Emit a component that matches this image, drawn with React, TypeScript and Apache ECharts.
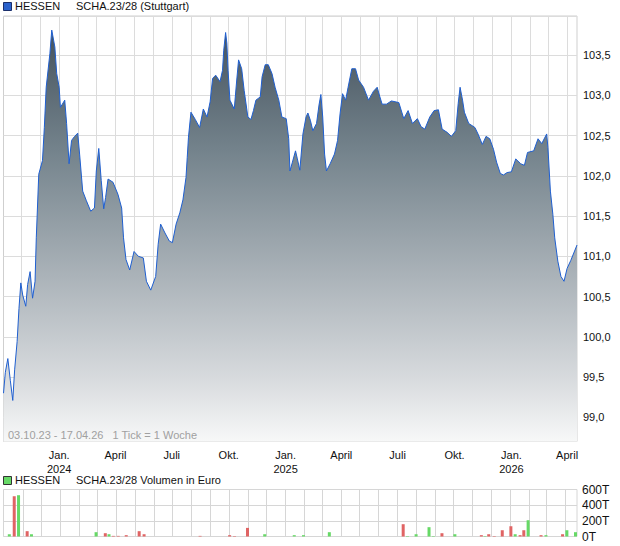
import React, { useEffect, useRef } from "react";
import * as echarts from "echarts";

const priceDates = [
  "2023-10-03","2023-10-06","2023-10-10","2023-10-14","2023-10-18","2023-10-21","2023-10-25","2023-10-28","2023-10-31",
  "2023-11-03","2023-11-08","2023-11-11","2023-11-15","2023-11-19","2023-11-23","2023-11-25","2023-11-29",
  "2023-12-05","2023-12-08","2023-12-11","2023-12-17","2023-12-20","2023-12-25","2023-12-28",
  "2024-01-01","2024-01-03","2024-01-10","2024-01-13","2024-01-17","2024-01-21","2024-01-26","2024-01-31",
  "2024-02-03","2024-02-08","2024-02-14","2024-02-21","2024-02-27",
  "2024-03-01","2024-03-05","2024-03-09","2024-03-13","2024-03-16","2024-03-20","2024-03-28",
  "2024-04-05","2024-04-11","2024-04-14","2024-04-18","2024-04-24",
  "2024-05-01","2024-05-08","2024-05-16","2024-05-21","2024-05-28",
  "2024-06-05","2024-06-09","2024-06-13","2024-06-20","2024-06-27",
  "2024-07-02","2024-07-08","2024-07-14","2024-07-19","2024-07-24","2024-07-26","2024-07-28",
  "2024-08-01","2024-08-08","2024-08-15","2024-08-21","2024-08-27",
  "2024-09-01","2024-09-05","2024-09-10","2024-09-17","2024-09-21","2024-09-23","2024-09-26","2024-09-28","2024-09-30",
  "2024-10-03","2024-10-10","2024-10-14","2024-10-17","2024-10-22","2024-10-26",
  "2024-11-01","2024-11-06","2024-11-10","2024-11-14","2024-11-21","2024-11-24","2024-11-29",
  "2024-12-04","2024-12-10","2024-12-15","2024-12-21","2024-12-26",
  "2025-01-02","2025-01-06","2025-01-08","2025-01-12","2025-01-17","2025-01-20","2025-01-24","2025-01-29",
  "2025-02-03","2025-02-06","2025-02-10","2025-02-14","2025-02-20","2025-02-24","2025-02-27",
  "2025-03-02","2025-03-05","2025-03-08","2025-03-14","2025-03-21","2025-03-26","2025-03-30",
  "2025-04-03","2025-04-08","2025-04-12","2025-04-18","2025-04-24","2025-04-29",
  "2025-05-07","2025-05-15","2025-05-23","2025-05-29",
  "2025-06-02","2025-06-06","2025-06-13","2025-06-21",
  "2025-07-03","2025-07-11","2025-07-18","2025-07-25",
  "2025-08-02","2025-08-08","2025-08-14","2025-08-22","2025-08-29",
  "2025-09-05","2025-09-11","2025-09-19","2025-09-26",
  "2025-10-03","2025-10-07","2025-10-10","2025-10-14","2025-10-17","2025-10-24",
  "2025-11-03","2025-11-08","2025-11-15","2025-11-21","2025-11-27",
  "2025-12-03","2025-12-08","2025-12-14","2025-12-19","2025-12-25",
  "2026-01-01","2026-01-08","2026-01-16","2026-01-22","2026-01-27",
  "2026-02-06","2026-02-13","2026-02-19","2026-02-27",
  "2026-03-01","2026-03-05","2026-03-09","2026-03-12","2026-03-17","2026-03-22","2026-03-27",
  "2026-04-01","2026-04-07","2026-04-17",
];

const priceValues = [
  99.30,99.56,99.73,99.46,99.21,99.59,99.94,100.35,100.67,
  100.52,100.38,100.65,100.81,100.48,100.69,101.23,102.02,
  102.19,102.60,103.10,103.52,103.81,103.60,103.27,
  103.10,102.85,102.94,102.65,102.15,102.44,102.49,102.53,
  102.27,101.81,101.69,101.56,101.60,
  102.06,102.34,101.94,101.59,101.73,101.96,101.92,
  101.77,101.60,101.23,100.96,100.83,
  101.06,101.00,100.98,100.69,100.58,
  100.75,101.15,101.40,101.29,101.19,
  101.17,101.40,101.54,101.70,101.98,102.23,102.48,
  102.79,102.70,102.60,102.83,102.73,
  102.92,103.21,103.25,103.17,103.31,103.56,103.78,103.65,103.31,
  102.94,102.83,103.19,103.44,103.33,103.06,
  102.73,102.70,102.81,102.94,102.98,103.23,103.38,
  103.38,103.27,103.10,102.94,102.73,
  102.71,102.46,102.06,102.17,102.31,102.21,102.07,102.52,
  102.73,102.78,102.69,102.56,102.65,102.88,103.01,
  102.73,102.27,102.06,102.15,102.27,102.44,102.77,
  103.02,102.94,103.10,103.33,103.33,103.19,
  103.10,102.94,103.05,103.10,
  102.99,102.89,102.89,102.93,
  102.91,102.71,102.81,102.65,
  102.71,102.61,102.58,102.73,102.81,
  102.82,102.58,102.54,102.49,
  102.56,102.90,103.10,102.94,102.79,102.65,
  102.60,102.52,102.39,102.49,102.46,
  102.33,102.17,102.03,102.01,102.04,
  102.05,102.21,102.15,102.13,102.29,
  102.31,102.46,102.40,102.52,
  102.35,101.81,101.52,101.23,100.94,100.75,100.69,
  100.85,100.95,101.14,
];

const volumeDates = [
  "2023-10-10","2023-10-18","2023-10-25","2023-11-08","2023-11-15",
  "2024-02-28","2024-03-14","2024-03-20","2024-03-27","2024-04-04","2024-04-17","2024-05-08","2024-05-16",
  "2024-08-15","2024-10-02","2024-10-10","2024-10-31","2024-11-28",
  "2025-01-15","2025-01-30","2025-03-13","2025-07-11","2025-07-18","2025-08-01","2025-08-22","2025-08-29",
  "2025-09-12","2025-10-03","2025-11-15","2025-11-21","2025-11-27","2025-12-06","2025-12-19",
  "2026-01-02","2026-01-09","2026-01-17","2026-01-23","2026-01-30","2026-02-20","2026-02-28",
  "2026-03-27","2026-04-03","2026-04-17",
];
const volumeValues = [
  29000,514000,527000,68000,29000,
  55000,42000,29000,8000,8000,17000,68000,29000,
  8000,17000,6000,110000,29000,
  17000,17000,55000,157000,6000,29000,119000,6000,
  42000,29000,17000,6000,29000,6000,80000,
  131000,29000,17000,80000,208000,17000,17000,
  29000,80000,55000,
];
const volumeUp = [
  true,false,true,false,true,
  true,false,true,false,false,false,false,false,
  false,false,false,false,true,
  true,true,true,false,true,true,true,true,
  false,true,false,true,false,false,false,
  false,true,false,false,true,false,true,
  false,true,true,
];

// Monthly vertical grid lines
const gridMonths = [
  "2023-11-01","2023-12-01","2024-01-01","2024-02-01","2024-03-01","2024-04-01","2024-05-01","2024-06-01",
  "2024-07-01","2024-08-01","2024-09-01","2024-10-01","2024-11-01","2024-12-01","2025-01-01","2025-02-01",
  "2025-03-01","2025-04-01","2025-05-01","2025-06-01","2025-07-01","2025-08-01","2025-09-01","2025-10-01",
  "2025-11-01","2025-12-01","2026-01-01","2026-02-01","2026-03-01","2026-04-01",
];

const yTicksPrice = [99.0, 99.5, 100.0, 100.5, 101.0, 101.5, 102.0, 102.5, 103.0, 103.5];
const volumeTickLabels = ["0T", "200T", "400T", "600T"];
const monthLabels: Record<number, string> = { 0: "Jan.", 3: "April", 6: "Juli", 9: "Okt." };

const FONT = "'Liberation Sans', Arial, sans-serif";

export default function App() {
  const ref = useRef<HTMLDivElement>(null);

  useEffect(() => {
    if (!ref.current) return;
    const chart = echarts.init(ref.current, undefined, { renderer: "svg" });
    const toTs = (s: string) => new Date(s + "T00:00:00").getTime();
    const xMin = toTs(priceDates[0]);
    const xMax = toTs(priceDates[priceDates.length - 1]);
    const DAY = 24 * 3600 * 1000;

    const xCommon = {
      type: "time" as const,
      min: xMin,
      max: xMax,
      splitNumber: 31,
      minInterval: 28 * DAY,
      maxInterval: 31 * DAY,
      axisLine: { show: false },
      splitLine: { show: false },
    };

    const gridMarkLine = (color: string) => ({
      silent: true,
      z: 0,
      symbol: ["none", "none"],
      animation: false,
      label: { show: false },
      emphasis: { disabled: true },
      lineStyle: { color, type: "solid", width: 1, opacity: 1 },
      data: gridMonths.map((d) => ({ xAxis: toTs(d) })),
    });

    const option: any = {
      animation: false,
      backgroundColor: "#ffffff",
      textStyle: { fontFamily: FONT },
      grid: [
        { left: 3.5, top: 16, right: 43, height: 425.5, show: true, borderColor: "#cfcfcf", borderWidth: 1, backgroundColor: "transparent" },
        { left: 3.5, top: 489.5, right: 43, height: 47, show: true, borderColor: "#d6d6d6", borderWidth: 1, backgroundColor: "transparent" },
      ],
      xAxis: [
        {
          ...xCommon,
          gridIndex: 0,
          axisTick: { show: false },
          axisLabel: {
            show: true,
            interval: 0,
            color: "#111",
            fontSize: 11,
            fontFamily: FONT,
            lineHeight: 14,
            margin: 6,
            hideOverlap: false,
            showMinLabel: true,
            showMaxLabel: true,
            formatter: (val: number) => {
              const d = new Date(val);
              if (d.getDate() !== 1) return "";
              const m = d.getMonth();
              const lbl = monthLabels[m];
              if (!lbl) return "";
              return m === 0 ? lbl + "\n" + d.getFullYear() : lbl;
            },
          },
        },
        {
          ...xCommon,
          gridIndex: 1,
          axisTick: { show: false },
          axisLabel: { show: false },
        },
      ],
      yAxis: [
        {
          type: "value",
          gridIndex: 0,
          position: "right",
          min: 98.70,
          max: 103.985,
          splitNumber: 10,
          minInterval: 0.5,
          maxInterval: 0.5,
          axisLine: { show: false },
          axisTick: { show: false },
          splitLine: { show: true, lineStyle: { color: "#dcdcdc", width: 1 } },
          axisLabel: {
            color: "#111",
            fontSize: 11,
            fontFamily: FONT,
            margin: 6,
            showMinLabel: false,
            showMaxLabel: false,
            formatter: (v: number) => {
              const hit = yTicksPrice.find((t) => Math.abs(t - v) < 1e-6);
              return hit === undefined ? "" : hit.toFixed(1).replace(".", ",");
            },
          },
        },
        {
          type: "value",
          gridIndex: 1,
          position: "right",
          min: 0,
          max: 600000,
          interval: 200000,
          axisLine: { show: false },
          axisTick: { show: false },
          splitLine: { show: true, lineStyle: { color: "#d6d6d6", width: 1 } },
          axisLabel: {
            color: "#111",
            fontSize: 12,
            fontFamily: FONT,
            margin: 5,
            formatter: (v: number) => volumeTickLabels[Math.round(v / 200000)] ?? "",
          },
        },
      ],
      series: [
        {
          type: "line",
          xAxisIndex: 0,
          yAxisIndex: 0,
          data: [],
          symbol: "none",
          z: 0,
          markLine: gridMarkLine("#dcdcdc"),
        },
        {
          type: "line",
          xAxisIndex: 0,
          yAxisIndex: 0,
          data: priceDates.map((d, i) => [d, priceValues[i]]),
          showSymbol: false,
          symbol: "none",
          lineStyle: { color: "#1f5fd0", width: 1 },
          areaStyle: {
            color: new echarts.graphic.LinearGradient(0, 0, 0, 1, [
              { offset: 0, color: "#45535e" },
              { offset: 0.3, color: "#75848d" },
              { offset: 0.6, color: "#abb3b9" },
              { offset: 0.85, color: "#d8dbde" },
              { offset: 1, color: "#f7f8f8" },
            ]),
            opacity: 1,
          },
          z: 3,
        },
        {
          type: "line",
          xAxisIndex: 1,
          yAxisIndex: 1,
          data: [],
          symbol: "none",
          z: 0,
          markLine: gridMarkLine("#d6d6d6"),
        },
        {
          type: "bar",
          xAxisIndex: 1,
          yAxisIndex: 1,
          barWidth: 3,
          z: 3,
          data: volumeDates.map((d, i) => ({
            value: [d, volumeValues[i]],
            itemStyle: { color: volumeUp[i] ? "#66d966" : "#e06464" },
          })),
        },
      ],
      graphic: [
        { type: "rect", left: 3, top: 2, shape: { width: 8, height: 8 }, style: { fill: "#2b62cc", stroke: "#1b2f6b", lineWidth: 1 } },
        { type: "text", left: 15, top: 0, style: { text: "HESSEN", fill: "#111", font: `11px ${FONT}` } },
        { type: "text", left: 76, top: 0, style: { text: "SCHA.23/28 (Stuttgart)", fill: "#111", font: `11px ${FONT}` } },
        { type: "text", left: 8, top: 429, z: 10, style: { text: "03.10.23 - 17.04.26   1 Tick = 1 Woche", fill: "#a0a0a0", font: `11px ${FONT}` } },
        { type: "rect", left: 3, top: 476, shape: { width: 8, height: 8 }, style: { fill: "#66d966", stroke: "#333", lineWidth: 1 } },
        { type: "text", left: 15, top: 474, style: { text: "HESSEN", fill: "#111", font: `11px ${FONT}` } },
        { type: "text", left: 76, top: 474, style: { text: "SCHA.23/28 Volumen in Euro", fill: "#111", font: `11px ${FONT}` } },
      ],
    };

    chart.setOption(option);
    return () => chart.dispose();
  }, []);

  return (
    <div
      ref={ref}
      style={{ position: "fixed", left: 0, top: 0, width: 620, height: 546, background: "#fff" }}
    />
  );
}
